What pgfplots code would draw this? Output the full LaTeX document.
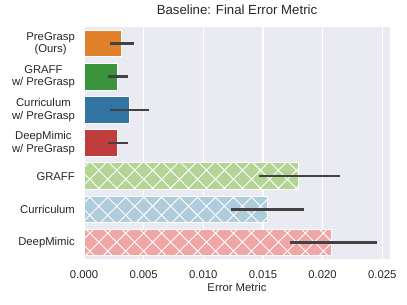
\documentclass[border=0pt]{standalone}
\usepackage{fontspec}
\setmainfont{Liberation Sans}
\usepackage{pgfplots}
\pgfplotsset{compat=1.18}
\usetikzlibrary{patterns.meta}
\definecolor{bgc}{RGB}{234,234,242}
\definecolor{txt}{RGB}{38,38,38}
\definecolor{errc}{RGB}{66,66,66}
\definecolor{cOrange}{RGB}{225,129,44}
\definecolor{cGreen}{RGB}{58,146,58}
\definecolor{cBlue}{RGB}{50,116,161}
\definecolor{cRed}{RGB}{192,61,62}
\definecolor{cLGreen}{RGB}{179,212,149}
\definecolor{cLBlue}{RGB}{174,204,219}
\definecolor{cPink}{RGB}{239,166,165}
\tikzset{hatchx/.style={postaction={pattern={Hatch[angle=45,distance=12.7pt,line width=0.9pt]},pattern color=white}}}
\begin{document}
\begin{tikzpicture}
\begin{axis}[
  scale only axis, width=306pt, height=232pt,
  xmin=0, xmax=0.02565, ymin=-0.5, ymax=6.5, y dir=reverse,
  axis background/.style={fill=bgc},
  axis line style={draw=none},
  tick style={draw=none},
  xmajorgrids, grid style={white, line width=1.2pt},
  xtick={0,0.005,0.01,0.015,0.02,0.025},
  scaled x ticks=false,
  xticklabel style={/pgf/number format/fixed, /pgf/number format/fixed zerofill, /pgf/number format/precision=3,
    font=\fontsize{11.3}{13}\selectfont, text=txt, anchor=base, yshift=-19.3pt},
  /pgf/number format/assume math mode=true,
  ytick={0,1,2,3,4,5,6},
  yticklabels={{PreGrasp\\(Ours)},{GRAFF\\w/ PreGrasp},{Curriculum\\w/ PreGrasp},{DeepMimic\\w/ PreGrasp},GRAFF,Curriculum,DeepMimic},
  yticklabel style={align=center, anchor=east, inner sep=0pt, xshift=-9pt, font=\fontsize{11.3}{12.7}\selectfont, text=txt},
  title={Baseline: Final Error Metric},
  title style={at={(axis description cs:0.5,1)}, anchor=base, yshift=7pt, font=\fontsize{13.2}{15}\selectfont, text=txt},
  xlabel={Error Metric},
  xlabel style={at={(axis description cs:0.5,0)}, anchor=base, yshift=-32.3pt, font=\fontsize{11.3}{13}\selectfont, text=txt},
]
\addplot[xbar, bar width=0.8, bar shift=0pt, fill=cOrange, draw=white, line width=0.8pt] coordinates {(0.00316,0)};
\addplot[xbar, bar width=0.8, bar shift=0pt, fill=cGreen, draw=white, line width=0.8pt] coordinates {(0.0028,1)};
\addplot[xbar, bar width=0.8, bar shift=0pt, fill=cBlue, draw=white, line width=0.8pt] coordinates {(0.0038,2)};
\addplot[xbar, bar width=0.8, bar shift=0pt, fill=cRed, draw=white, line width=0.8pt] coordinates {(0.0028,3)};
\addplot[xbar, bar width=0.8, bar shift=0pt, fill=cLGreen, draw=white, line width=0.8pt, hatchx] coordinates {(0.01793,4)};
\addplot[xbar, bar width=0.8, bar shift=0pt, fill=cLBlue, draw=white, line width=0.8pt, hatchx] coordinates {(0.01538,5)};
\addplot[xbar, bar width=0.8, bar shift=0pt, fill=cPink, draw=white, line width=0.8pt, hatchx] coordinates {(0.0207,6)};
\addplot[errc, line width=2.5pt, no markers] coordinates {(0.00218,0) (0.00423,0)};
\addplot[errc, line width=2.5pt, no markers] coordinates {(0.00201,1) (0.00367,1)};
\addplot[errc, line width=2.5pt, no markers] coordinates {(0.00216,2) (0.00549,2)};
\addplot[errc, line width=2.5pt, no markers] coordinates {(0.00200,3) (0.00365,3)};
\addplot[errc, line width=2.5pt, no markers] coordinates {(0.01471,4) (0.02143,4)};
\addplot[errc, line width=2.5pt, no markers] coordinates {(0.01231,5) (0.01846,5)};
\addplot[errc, line width=2.5pt, no markers] coordinates {(0.01728,6) (0.02453,6)};
\end{axis}
\pgfresetboundingbox
\path ([shift={(-84pt,-46pt)}]current axis.south west) rectangle ([shift={(17pt,27pt)}]current axis.north east);
\end{tikzpicture}
\end{document}
